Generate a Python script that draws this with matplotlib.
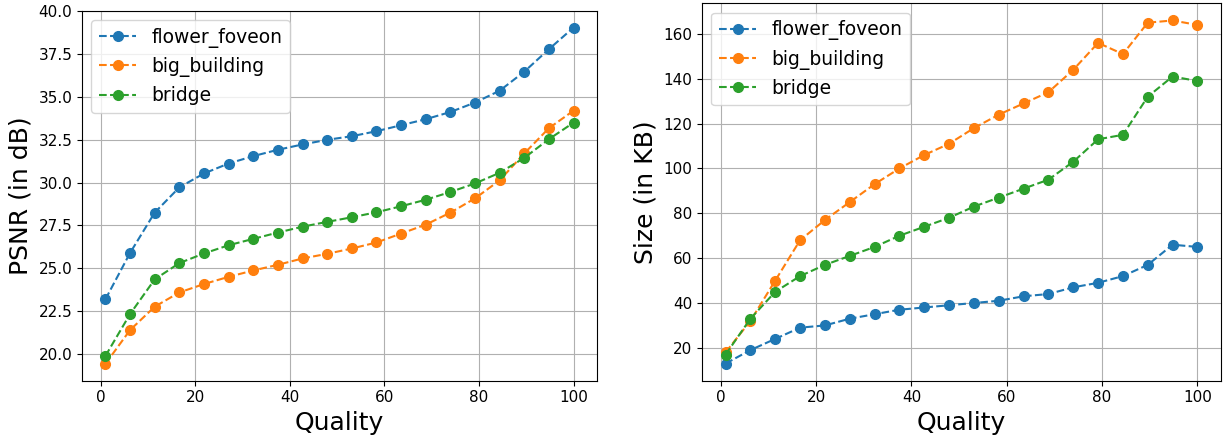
import numpy as np
import matplotlib
matplotlib.use("Agg")
import matplotlib.pyplot as plt

quality = [1.0, 6.21, 11.42, 16.63, 21.84, 27.05, 32.26, 37.47, 42.68, 47.89,
           53.11, 58.32, 63.53, 68.74, 73.95, 79.16, 84.37, 89.58, 94.79, 100.0]

series_names = ["flower_foveon", "big_building", "bridge"]

psnr_flower = [23.2, 25.9, 28.25, 29.72, 30.53, 31.11, 31.54, 31.91, 32.22, 32.49,
               32.70, 32.99, 33.34, 33.69, 34.11, 34.66, 35.35, 36.46, 37.77, 39.03]
psnr_building = [19.44, 21.41, 22.77, 23.60, 24.09, 24.51, 24.88, 25.21, 25.58, 25.85,
                 26.16, 26.51, 27.03, 27.55, 28.25, 29.08, 30.13, 31.70, 33.17, 34.19]
psnr_bridge = [19.90, 22.34, 24.36, 25.31, 25.87, 26.35, 26.72, 27.09, 27.43, 27.71,
               27.98, 28.27, 28.62, 29.00, 29.45, 29.95, 30.57, 31.44, 32.53, 33.49]

size_flower = [13, 19, 24, 29, 30, 33, 35, 37, 38, 39,
               40, 41, 43, 44, 47, 49, 52, 57, 66, 65]
size_building = [18, 32, 50, 68, 77, 85, 93, 100, 106, 111,
                 118, 124, 129, 134, 144, 156, 151, 165, 166, 164]
size_bridge = [17, 33, 45, 52, 57, 61, 65, 70, 74, 78,
               83, 87, 91, 95, 103, 113, 115, 132, 141, 139]

colors = ["#1f77b4", "#ff7f0e", "#2ca02c"]

fig = plt.figure(figsize=(12.28, 4.36), dpi=100)
ax1 = fig.add_axes([82/1228, 55.3/436, 515/1228, 370/436])
ax2 = fig.add_axes([702/1228, 55.3/436, 519/1228, 377.4/436])

for ax, data, ylabel in [
    (ax1, [psnr_flower, psnr_building, psnr_bridge], "PSNR (in dB)"),
    (ax2, [size_flower, size_building, size_bridge], "Size (in KB)"),
]:
    for name, vals, c in zip(series_names, data, colors):
        ax.plot(quality, vals, linestyle="--", marker="o", color=c,
                markersize=7, linewidth=1.5, label=name)
    ax.grid(True)
    ax.set_xlabel("Quality", fontsize=18)
    ax.set_ylabel(ylabel, fontsize=18)
    ax.tick_params(labelsize=11)
    ax.legend(loc="upper left", fontsize=13.5)

fig.savefig("out.png", dpi=100)
